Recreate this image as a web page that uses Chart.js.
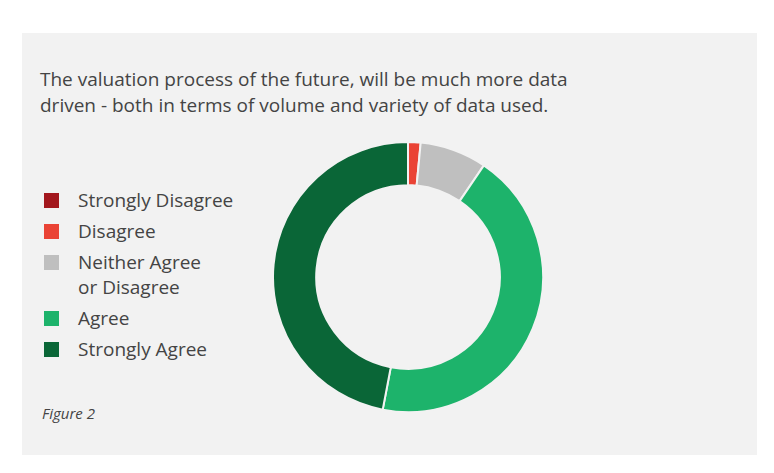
<!DOCTYPE html>
<html>
<head>
<meta charset="utf-8">
<script src="https://cdn.jsdelivr.net/npm/chart.js@4"></script>
<style>
  body { margin: 0; width: 774px; height: 473px; background: #fff; font-family: "Open Sans", sans-serif; position: relative; overflow: hidden; }
  .panel { position: absolute; left: 22px; top: 33px; width: 735px; height: 422px; background: #f2f2f2; }
  .title { position: absolute; left: 40px; top: 66px; font-size: 19px; line-height: 26px; color: #444; }
  .legend { position: absolute; left: 44px; top: 188px; font-size: 19px; color: #444; }
  .item { position: relative; padding-left: 34px; line-height: 25px; margin-bottom: 6px; }
  .sw { position: absolute; left: 0; top: 5px; width: 15px; height: 15px; }
  .fig { position: absolute; left: 42px; top: 403px; font-size: 15px; font-style: italic; color: #444; }
  #wrap { position: absolute; left: 272px; top: 141px; width: 272px; height: 272px; }
</style>
</head>
<body>
<div class="panel"></div>
<div class="title">The valuation process of the future, will be much more data<br>driven - both in terms of volume and variety of data used.</div>
<div class="legend" id="legend"></div>
<div class="fig">Figure 2</div>
<div id="wrap"><canvas id="chart"></canvas></div>
<script>
const categories = ["Strongly Disagree", "Disagree", "Neither Agree\nor Disagree", "Agree", "Strongly Agree"];
const values = [0, 1.5, 8, 43.5, 47];
const colors = ["#a3171d", "#ea4335", "#bfbfbf", "#1db36b", "#0a6637"];

const legend = document.getElementById("legend");
categories.forEach((c, i) => {
    const d = document.createElement("div");
    d.className = "item";
    d.innerHTML = '<span class="sw" style="background:' + colors[i] + '"></span>' + c.replace("\n", "<br>");
    legend.appendChild(d);
});

new Chart(document.getElementById("chart").getContext("2d"), {
    type: "doughnut",
    data: {
        labels: categories,
        datasets: [{
            data: values,
            backgroundColor: colors,
            borderColor: "#f2f2f2",
            borderWidth: 2,
        }],
    },
    options: {
        responsive: true,
        maintainAspectRatio: true,
        animation: false,
        cutout: "68%",
        plugins: {
            legend: { display: false },
            tooltip: { enabled: false },
        },
    },
});
</script>
</body>
</html>
